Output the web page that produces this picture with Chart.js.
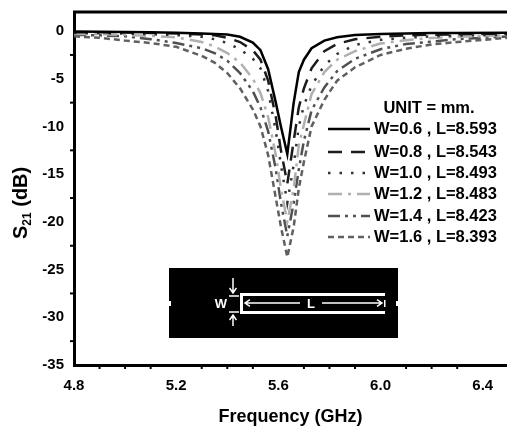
<!DOCTYPE html>
<html>
<head>
<meta charset="utf-8">
<style>
  html, body { margin: 0; padding: 0; background: #fff; overflow: hidden; }
  canvas { display: block; }
</style>
<script src="https://cdn.jsdelivr.net/npm/chart.js@4/dist/chart.umd.min.js"></script>
</head>
<body>
<canvas id="s21Chart" width="507" height="428"></canvas>
<script>
// ─── data ───
const freqs = [4.8,4.9,5.0,5.1,5.2,5.3,5.35,5.4,5.45,5.5,5.53,5.56,5.59,5.61,5.635,5.66,5.68,5.7,5.73,5.78,5.83,5.9,6.0,6.1,6.2,6.3,6.5];
const w06 = [-0.05,-0.07,-0.1,-0.13,-0.17,-0.25,-0.3,-0.37,-0.6,-1.2,-2.0,-4.0,-7.5,-10,-12.9,-7.5,-4.3,-3.0,-1.8,-1.0,-0.65,-0.42,-0.3,-0.25,-0.2,-0.2,-0.17];
const w08 = [-0.12,-0.13,-0.15,-0.2,-0.25,-0.35,-0.45,-0.7,-1.15,-2.0,-3.0,-5.2,-9,-12.5,-16,-11.5,-8,-6,-3.9,-2.1,-1.35,-0.85,-0.6,-0.45,-0.38,-0.33,-0.28];
const w10 = [-0.2,-0.22,-0.27,-0.33,-0.42,-0.6,-0.85,-1.25,-1.9,-2.9,-3.9,-6.3,-10.5,-14,-18,-14,-10,-7.8,-5.7,-3.6,-2.4,-1.45,-0.92,-0.7,-0.55,-0.48,-0.38];
const w12 = [-0.3,-0.33,-0.4,-0.5,-0.65,-1.15,-1.6,-2.3,-3.3,-5.0,-6.5,-9,-13,-16.5,-20,-16.5,-12,-9.8,-6.6,-4.3,-3.0,-2.1,-1.3,-0.95,-0.72,-0.6,-0.45];
const w14 = [-0.4,-0.45,-0.55,-0.85,-1.25,-1.8,-2.3,-3.1,-4.4,-6.3,-8,-10.5,-14.5,-18,-21.5,-18,-14.5,-11.5,-8.3,-5.9,-4.2,-2.9,-1.9,-1.35,-1.1,-0.85,-0.55];
const w16 = [-0.55,-0.7,-1.0,-1.25,-1.65,-2.6,-3.3,-4.4,-6.0,-8.2,-10,-13,-17.5,-20.5,-23.7,-20.5,-16.5,-13.7,-10,-7.2,-5.2,-3.8,-2.5,-1.85,-1.4,-1.15,-0.7];

const seriesLabels = ['W=0.6 , L=8.593','W=0.8 , L=8.543','W=1.0 , L=8.493','W=1.2 , L=8.483','W=1.4 , L=8.423','W=1.6 , L=8.393'];
const seriesValues = [w06, w08, w10, w12, w14, w16];
const seriesColors = ['#000000','#1c1c1c','#333333','#b0b0b0','#505050','#606060'];
const seriesDashes = [[], [14,9], [2.5,9], [14,6,3,6], [12,5,3,5,3,5], [6,4]];

const xMajor = [4.8,5.2,5.6,6.0,6.4];
const xMinor = [4.9,5.0,5.1,5.3,5.4,5.5,5.7,5.8,5.9,6.1,6.2,6.3];
const yMajor = [-35,-30,-25,-20,-15,-10,-5,0];
const yMinor = [-32.5,-27.5,-22.5,-17.5,-12.5,-7.5,-2.5];

const ink = '#000';
const fontFam = "'Liberation Sans', Arial, sans-serif";

// minor ticks, top frame line, y title with subscript
const framePlugin = {
  id: 'frame',
  afterDraw(chart) {
    const { ctx, chartArea: a, scales: { x, y } } = chart;
    ctx.save();
    ctx.strokeStyle = ink;
    ctx.lineWidth = 2;
    xMinor.forEach(v => {
      const px = x.getPixelForValue(v);
      ctx.beginPath(); ctx.moveTo(px, a.bottom); ctx.lineTo(px, a.bottom + 4); ctx.stroke();
    });
    yMinor.forEach(v => {
      const py = y.getPixelForValue(v);
      ctx.beginPath(); ctx.moveTo(a.left, py); ctx.lineTo(a.left - 4, py); ctx.stroke();
    });
    ctx.lineWidth = 3;
    ctx.beginPath(); ctx.moveTo(a.left - 1, a.top); ctx.lineTo(a.right, a.top); ctx.stroke();

    ctx.translate(27, 239);
    ctx.rotate(-Math.PI / 2);
    ctx.fillStyle = ink;
    ctx.textBaseline = 'alphabetic';
    ctx.font = 'bold 20px ' + fontFam;
    ctx.fillText('S', 0, 0);
    let off = ctx.measureText('S').width;
    ctx.font = 'bold 12px ' + fontFam;
    ctx.fillText('21', off, 4);
    off += ctx.measureText('21').width;
    ctx.font = 'bold 20px ' + fontFam;
    ctx.fillText(' (dB)', off, 0);
    ctx.restore();
  }
};

// hand-placed legend inside the plot
const legendPlugin = {
  id: 'inlineLegend',
  afterDraw(chart) {
    const { ctx } = chart;
    const rows = [129, 152, 173, 194, 216, 237];
    ctx.save();
    ctx.fillStyle = ink;
    ctx.textBaseline = 'middle';
    ctx.font = 'bold 16.5px ' + fontFam;
    ctx.textAlign = 'center';
    ctx.fillText('UNIT = mm.', 429, 108);
    ctx.textAlign = 'left';
    seriesLabels.forEach((t, i) => {
      ctx.strokeStyle = seriesColors[i];
      ctx.lineWidth = 2.5;
      ctx.setLineDash(seriesDashes[i]);
      ctx.beginPath(); ctx.moveTo(328, rows[i]); ctx.lineTo(370, rows[i]); ctx.stroke();
      ctx.fillText(t, 374, rows[i]);
    });
    ctx.restore();
  }
};

// resonator sketch under the curves
const insetPlugin = {
  id: 'inset',
  afterDraw(chart) {
    const { ctx } = chart;
    const arrow = (x1, y1, x2, y2) => {
      const ang = Math.atan2(y2 - y1, x2 - x1);
      ctx.lineWidth = 1.5;
      ctx.beginPath(); ctx.moveTo(x1, y1); ctx.lineTo(x2, y2);
      ctx.moveTo(x2 - 6 * Math.cos(ang - 0.6), y2 - 6 * Math.sin(ang - 0.6));
      ctx.lineTo(x2, y2);
      ctx.lineTo(x2 - 6 * Math.cos(ang + 0.6), y2 - 6 * Math.sin(ang + 0.6));
      ctx.stroke();
    };
    ctx.save();
    ctx.fillStyle = '#000';
    ctx.fillRect(169, 268, 229, 70);
    ctx.strokeStyle = '#fff';
    ctx.fillStyle = '#fff';
    // U shaped strip
    ctx.lineWidth = 3;
    ctx.beginPath(); ctx.moveTo(385, 294.5); ctx.lineTo(241.5, 294.5); ctx.lineTo(241.5, 312.5); ctx.lineTo(385, 312.5); ctx.stroke();
    // feed stubs at the edges
    ctx.fillRect(169, 301, 2, 5);
    ctx.fillRect(396, 301, 2, 5);
    ctx.fillRect(384, 300, 1.5, 7);
    // L dimension
    arrow(300, 303, 245, 303);
    arrow(322, 303, 382, 303);
    // W dimension
    ctx.lineWidth = 1.5;
    ctx.beginPath(); ctx.moveTo(229, 296); ctx.lineTo(239, 296); ctx.moveTo(229, 312); ctx.lineTo(239, 312); ctx.stroke();
    arrow(233, 278, 233, 293);
    arrow(233, 326, 233, 315);
    ctx.font = 'bold 13px ' + fontFam;
    ctx.textAlign = 'center';
    ctx.textBaseline = 'middle';
    ctx.fillText('W', 221, 304);
    ctx.fillText('L', 311, 304);
    ctx.restore();
  }
};

new Chart(document.getElementById('s21Chart'), {
  type: 'scatter',
  data: {
    datasets: seriesLabels.map((label, i) => ({
      label,
      data: freqs.map((f, j) => ({ x: f, y: seriesValues[i][j] })),
      showLine: true,
      borderColor: seriesColors[i],
      borderWidth: 2.5,
      borderDash: seriesDashes[i],
      pointRadius: 0,
      tension: 0,
      order: i === 0 ? 0 : i + 1
    }))
  },
  options: {
    responsive: false,
    animation: false,
    layout: { padding: { top: 11, right: 0, bottom: 0, left: 0 } },
    plugins: { legend: { display: false }, tooltip: { enabled: false } },
    scales: {
      x: {
        type: 'linear', min: 4.8, max: 6.495,
        afterBuildTicks: s => { s.ticks = xMajor.map(v => ({ value: v })); },
        afterFit: s => { s.height = 63; },
        grid: { display: false, drawTicks: true, tickLength: 7, tickColor: ink, tickWidth: 2.5 },
        border: { display: true, color: ink, width: 3 },
        ticks: { color: ink, padding: 5, maxRotation: 0, autoSkip: false, font: { family: fontFam, size: 15, weight: 'bold' }, callback: v => v.toFixed(1) },
        title: { display: true, text: 'Frequency (GHz)', color: ink, padding: { top: 8, bottom: 0 }, font: { family: fontFam, size: 18, weight: 'bold' } }
      },
      y: {
        min: -35, max: 2,
        afterBuildTicks: s => { s.ticks = yMajor.map(v => ({ value: v })); },
        afterFit: s => { s.width = 74; },
        grid: { display: false, drawTicks: true, tickLength: 7, tickColor: ink, tickWidth: 2.5 },
        border: { display: true, color: ink, width: 3 },
        ticks: { color: ink, padding: 3, autoSkip: false, font: { family: fontFam, size: 15, weight: 'bold' }, callback: v => String(v) }
      }
    }
  },
  plugins: [framePlugin, legendPlugin, insetPlugin]
});
</script>
</body>
</html>
